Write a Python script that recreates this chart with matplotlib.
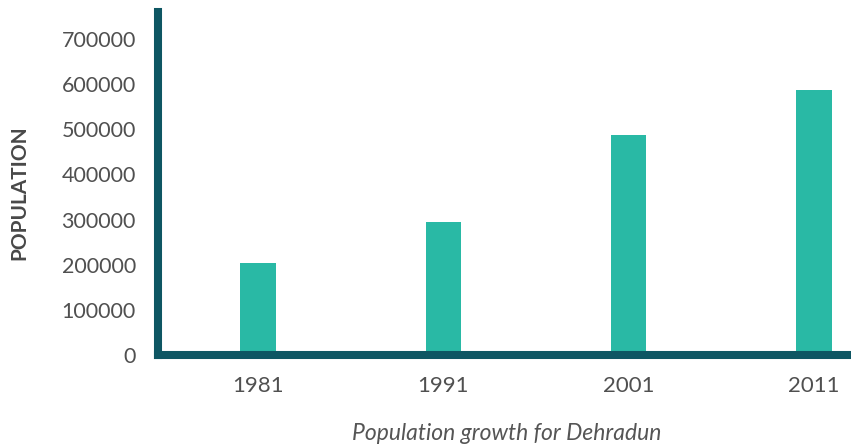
import matplotlib
matplotlib.use("Agg")
import matplotlib.pyplot as plt

years = ["1981", "1991", "2001", "2011"]
population = [204000, 294000, 487000, 587000]
yticks = [0, 100000, 200000, 300000, 400000, 500000, 600000, 700000]

plt.rcParams['font.family'] = ['Lato', 'DejaVu Sans']

W, H = 851, 448
fig = plt.figure(figsize=(W / 100, H / 100), dpi=100)
ax = fig.add_axes([158 / W, 1 - 355 / H, (W - 158) / W, (355 - 12) / H])

x = list(range(len(years)))
ax.bar(x, population, width=0.19, color="#29B9A5", zorder=2)
ax.axhline(0, color="#d8dcdf", lw=1, zorder=1)

ax.set_xlim(-0.54, 3.2)
ax.set_ylim(0, 760000)
ax.set_xticks(x)
ax.set_xticklabels(years)
ax.set_yticks(yticks)
ax.set_yticklabels([str(v) for v in yticks])

spine_col = "#0E5663"
for s in ["top", "right"]:
    ax.spines[s].set_visible(False)
for s in ["left", "bottom"]:
    ax.spines[s].set_color(spine_col)
    ax.spines[s].set_linewidth(5.8)
    ax.spines[s].set_capstyle("projecting")

ax.tick_params(axis="both", length=0, colors="#505050")
ax.tick_params(axis="y", pad=16, labelsize=15.5)
ax.tick_params(axis="x", pad=15, labelsize=16)

fig.text(19 / W, 1 - 193 / H, "POPULATION", rotation=90, ha="center", va="center",
         fontsize=15, fontweight="bold", color="#484848")
fig.text(507 / W, 1 - 433 / H, "Population growth for Dehradun", ha="center", va="center",
         fontsize=16.5, style="italic", color="#555555")

fig.savefig("out.png", dpi=100)
